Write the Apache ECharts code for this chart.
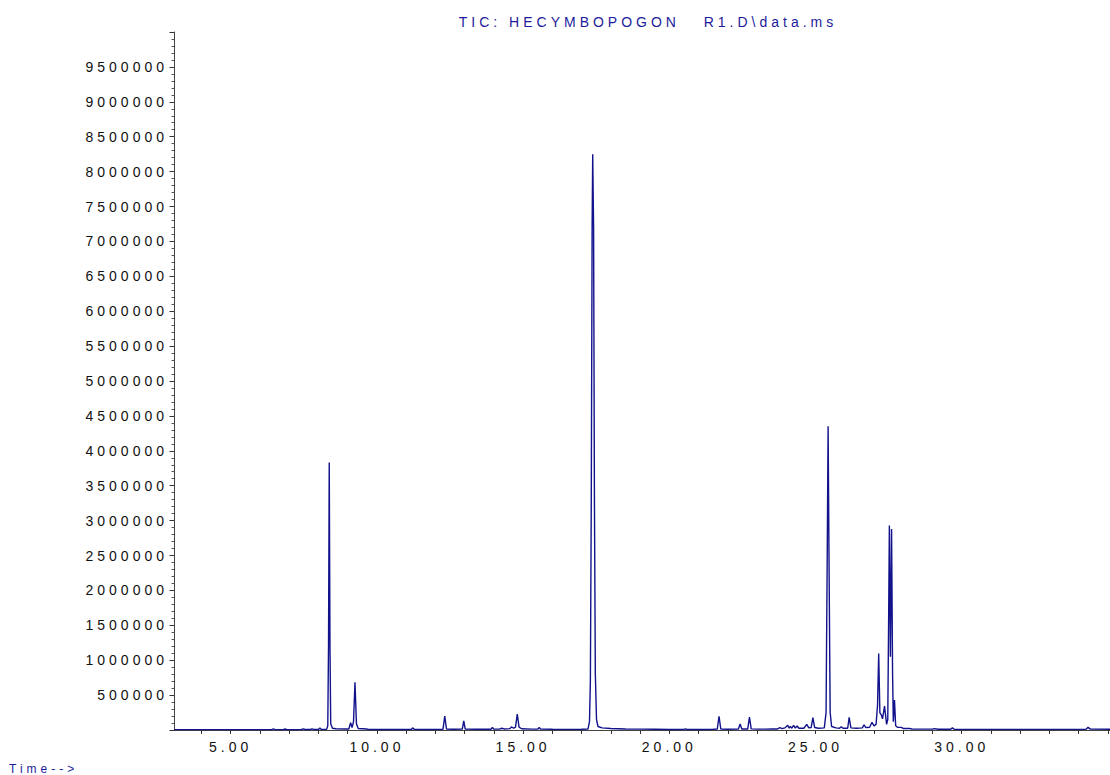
<!DOCTYPE html>
<html>
<head>
<meta charset="utf-8">
<title>TIC chromatogram</title>
<script src="https://cdn.jsdelivr.net/npm/echarts@6/dist/echarts.min.js"></script>
<style>
  html, body { margin: 0; padding: 0; background: #ffffff; }
  #chart { width: 1110px; height: 775px; }
  /* spaced lettering of the instrument printout */
  #chart text { letter-spacing: 4px; }
</style>
</head>
<body>
<div id="chart"></div>
<script>
// Retention time (min) and total ion abundance of the trace
const retentionTime = [
  3.06, 4.00, 5.00, 6.00, 6.40, 6.46, 6.52, 6.80, 6.86, 6.92,
  7.42, 7.48, 7.54, 7.72, 7.78, 7.84, 8.00, 8.05, 8.10, 8.28,
  8.32, 8.345, 8.37, 8.395, 8.42, 8.48, 8.60, 8.90, 9.04, 9.10,
  9.15, 9.20, 9.25, 9.30, 9.36, 9.65, 9.70, 10.00, 10.50, 11.18,
  11.22, 11.28, 11.70, 12.26, 12.32, 12.38, 12.60, 12.92, 12.97, 13.02,
  13.40, 13.90, 13.95, 14.00, 14.20, 14.27, 14.35, 14.55, 14.60, 14.68,
  14.74, 14.80, 14.86, 14.95, 15.30, 15.50, 15.55, 15.60, 16.00, 16.50,
  17.00, 17.22, 17.27, 17.30, 17.33, 17.36, 17.38, 17.41, 17.44, 17.47,
  17.51, 17.56, 17.70, 18.00, 18.50, 19.00, 19.50, 20.00, 20.50, 20.55,
  20.60, 21.00, 21.50, 21.64, 21.70, 21.76, 22.00, 22.36, 22.42, 22.48,
  22.68, 22.74, 22.80, 23.00, 23.30, 23.50, 23.70, 23.78, 23.85, 23.95,
  24.05, 24.10, 24.14, 24.19, 24.25, 24.31, 24.37, 24.43, 24.60, 24.70,
  24.77, 24.85, 24.91, 24.97, 25.10, 25.30, 25.36, 25.40, 25.43, 25.46,
  25.50, 25.55, 25.70, 25.82, 25.88, 25.94, 26.10, 26.15, 26.21, 26.40,
  26.60, 26.66, 26.72, 26.85, 26.93, 27.00, 27.07, 27.12, 27.16, 27.20,
  27.25, 27.29, 27.36, 27.43, 27.47, 27.50, 27.525, 27.56, 27.60, 27.635,
  27.66, 27.70, 27.74, 27.80, 27.93, 28.00, 28.20, 28.30, 28.60, 29.00,
  29.06, 29.20, 29.62, 29.68, 29.74, 30.50, 31.50, 32.50, 33.50, 34.25,
  34.32, 34.40, 35.07
];
const abundance = [
  5000, 5000, 5000, 6000, 6000, 15000, 6000, 6000, 14000, 6000,
  7000, 15000, 7000, 7000, 16000, 8000, 8000, 30000, 8000, 9000,
  60000, 1200000, 3834000, 1200000, 90000, 25000, 18000, 15000, 15000, 105000,
  35000, 120000, 683000, 90000, 22000, 14000, 8000, 7000, 7000, 7000,
  30000, 9000, 8000, 10000, 200000, 12000, 10000, 12000, 130000, 12000,
  10000, 10000, 35000, 12000, 12000, 25000, 15000, 20000, 45000, 25000,
  40000, 228000, 40000, 18000, 12000, 12000, 35000, 12000, 10000, 9000,
  10000, 15000, 120000, 700000, 3200000, 7200000, 8250000, 7200000, 3200000, 800000,
  150000, 50000, 30000, 22000, 15000, 12000, 10000, 8000, 8000, 15000,
  8000, 8000, 10000, 12000, 195000, 14000, 10000, 12000, 86000, 14000,
  14000, 183000, 16000, 12000, 12000, 15000, 15000, 33000, 20000, 30000,
  67000, 25000, 52000, 25000, 67000, 28000, 57000, 25000, 25000, 81000,
  30000, 35000, 177000, 35000, 25000, 30000, 250000, 2500000, 4350000, 2500000,
  250000, 50000, 30000, 25000, 48000, 25000, 25000, 180000, 30000, 25000,
  30000, 72000, 35000, 40000, 110000, 60000, 80000, 350000, 1097000, 250000,
  215000, 160000, 342000, 80000, 150000, 1600000, 2930000, 1050000, 2880000, 800000,
  120000, 428000, 60000, 40000, 38000, 22000, 24000, 15000, 12000, 12000,
  20000, 10000, 10000, 30000, 10000, 9000, 9000, 9000, 9000, 10000,
  38000, 12000, 10000
];

// Axis ticks and labels
const timeLabels = [5, 10, 15, 20, 25, 30];
const timeTicks = [4, 5, 6, 7, 8, 9, 10, 11, 12, 13, 14, 15, 16, 17, 18, 19,
  20, 21, 22, 23, 24, 25, 26, 27, 28, 29, 30, 31, 32, 33, 34, 35];
const abundanceLabels = [500000, 1000000, 1500000, 2000000, 2500000, 3000000,
  3500000, 4000000, 4500000, 5000000, 5500000, 6000000, 6500000, 7000000,
  7500000, 8000000, 8500000, 9000000, 9500000];

const titleText = 'TIC: HECYMBOPOGON   R1.D\\data.ms';
const axisTitle = 'Time-->';

const traceData = retentionTime.map((t, i) => [t, abundance[i]]);

const chart = echarts.init(document.getElementById('chart'), null, { renderer: 'svg' });

const labelFont = { fontFamily: '"Liberation Sans", Arial, sans-serif', fontSize: 14, color: '#111111' };

chart.setOption({
  animation: false,
  backgroundColor: '#ffffff',
  title: {
    text: titleText,
    left: 648,
    top: 14,
    textAlign: 'center',
    padding: 0,
    textStyle: {
      fontFamily: '"Liberation Sans", Arial, sans-serif',
      fontSize: 14,
      fontWeight: 'normal',
      color: '#1c1c9c',
      lineHeight: 16
    }
  },
  graphic: [{
    type: 'text',
    left: 9,
    top: 763,
    style: {
      text: axisTitle,
      fill: '#1c1c9c',
      font: '12px "Liberation Sans", Arial, sans-serif'
    }
  }],
  grid: { left: 174, right: 0, top: 32, bottom: 45, containLabel: false },
  xAxis: {
    type: 'value',
    min: 3.061,
    max: 35.07,
    axisLine: { show: true, onZero: false, lineStyle: { color: '#444444', width: 1 } },
    axisTick: { show: true, length: 4, customValues: timeTicks, lineStyle: { color: '#333333' } },
    axisLabel: {
      show: true,
      margin: 10,
      customValues: timeLabels,
      formatter: v => v.toFixed(2),
      ...labelFont
    },
    splitLine: { show: false }
  },
  yAxis: {
    type: 'value',
    min: 0,
    max: 10000000,
    interval: 500000,
    axisLine: { show: true, lineStyle: { color: '#444444', width: 1 } },
    axisTick: { show: true, length: 4.5, lineStyle: { color: '#333333' } },
    minorTick: { show: true, splitNumber: 5, length: 2.5, lineStyle: { color: '#555555' } },
    axisLabel: {
      show: true,
      margin: 6,
      customValues: abundanceLabels,
      formatter: v => String(v),
      ...labelFont
    },
    splitLine: { show: false },
    minorSplitLine: { show: false }
  },
  series: [{
    type: 'line',
    data: traceData,
    showSymbol: false,
    symbol: 'none',
    smooth: false,
    sampling: null,
    lineStyle: { color: '#12128c', width: 1.4 },
    z: 3
  }]
});
</script>
</body>
</html>
